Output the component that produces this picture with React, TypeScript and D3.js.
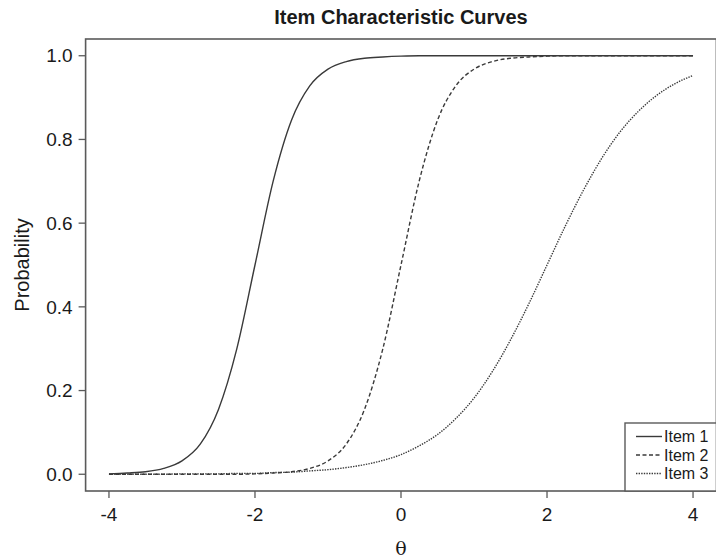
import React from "react";
import * as d3 from "d3";

const theta = [-4, -3.75, -3.5, -3.25, -3, -2.75, -2.5, -2.25, -2, -1.75, -1.5, -1.25, -1, -0.75, -0.5, -0.25, 0, 0.25, 0.5, 0.75, 1, 1.25, 1.5, 1.75, 2, 2.25, 2.5, 2.75, 3, 3.25, 3.5, 3.75, 4];
const item1 = [0.001, 0.003, 0.006, 0.014, 0.032, 0.072, 0.155, 0.299, 0.5, 0.701, 0.846, 0.928, 0.968, 0.986, 0.994, 0.997, 0.999, 1, 1, 1, 1, 1, 1, 1, 1, 1, 1, 1, 1, 1, 1, 1, 1];
const item2 = [0, 0, 0, 0, 0, 0, 0, 0, 0.001, 0.003, 0.006, 0.014, 0.032, 0.072, 0.155, 0.299, 0.5, 0.701, 0.846, 0.928, 0.968, 0.986, 0.994, 0.997, 0.999, 1, 1, 1, 1, 1, 1, 1, 1];
const item3 = [0, 0, 0, 0, 0.001, 0.001, 0.001, 0.002, 0.002, 0.004, 0.005, 0.008, 0.011, 0.016, 0.023, 0.033, 0.047, 0.068, 0.095, 0.133, 0.182, 0.245, 0.321, 0.407, 0.5, 0.593, 0.679, 0.755, 0.818, 0.867, 0.905, 0.933, 0.953];
const seriesNames = ["Item 1", "Item 2", "Item 3"];
const xTicks = [-4, -2, 0, 2, 4];
const yTicks = [0, 0.2, 0.4, 0.6, 0.8, 1.0];

export default function App() {
  const W = 716, H = 558;
  const left = 85.6, right = 716.4, top = 39, bottom = 491;
  const x = d3.scaleLinear().domain([-4.32, 4.32]).range([left, right]);
  const y = d3.scaleLinear().domain([-0.04, 1.04]).range([bottom, top]);
  const series = [item1, item2, item3];
  const dashes = [null, "4,2.5", "1.4,1.2"];
  const line = d3
    .line<number>()
    .x((_, i) => x(theta[i]))
    .y((d) => y(d))
    .curve(d3.curveMonotoneX);
  const lineColor = "#3a3a3a";
  const frameColor = "#5a5a5a";
  const textColor = "#1a1a1a";
  const font = "'Liberation Sans', Arial, sans-serif";
  const legLeft = 625, legTop = 423;
  const legY = [436.5, 455, 473.5];

  return (
    <svg width={W} height={H} style={{ position: "absolute", left: 0, top: 0, background: "#fff" }}>
      <defs>
        <clipPath id="plotclip">
          <rect x={left} y={top} width={right - left} height={bottom - top} />
        </clipPath>
      </defs>
      <text x={401} y={24} textAnchor="middle" fontFamily={font} fontWeight="bold" fontSize={20} fill={textColor}>
        Item Characteristic Curves
      </text>
      <g clipPath="url(#plotclip)">
        {series.map((s, k) => (
          <path
            key={k}
            d={line(s) || ""}
            fill="none"
            stroke={lineColor}
            strokeWidth={1.4}
            strokeDasharray={dashes[k] || undefined}
          />
        ))}
      </g>
      <rect x={left} y={top} width={right - left} height={bottom - top} fill="none" stroke={frameColor} strokeWidth={1.6} />
      {yTicks.map((t) => (
        <g key={"y" + t}>
          <line x1={left - 7} x2={left} y1={y(t)} y2={y(t)} stroke={frameColor} strokeWidth={1.3} />
          <text x={left - 13} y={y(t)} dy="0.35em" textAnchor="end" fontFamily={font} fontSize={19} fill={textColor}>
            {t.toFixed(1)}
          </text>
        </g>
      ))}
      {xTicks.map((t) => (
        <g key={"x" + t}>
          <line x1={x(t)} x2={x(t)} y1={bottom} y2={bottom + 7} stroke={frameColor} strokeWidth={1.3} />
          <text x={x(t)} y={521} textAnchor="middle" fontFamily={font} fontSize={19} fill={textColor}>
            {t}
          </text>
        </g>
      ))}
      <text
        transform={`translate(22, ${(top + bottom) / 2}) rotate(-90)`}
        dy="0.35em"
        textAnchor="middle"
        fontFamily={font}
        fontSize={20}
        fill={textColor}
      >
        Probability
      </text>
      <text x={401} y={555} textAnchor="middle" fontFamily="'DejaVu Serif', 'Liberation Serif', serif" fontSize={19} fill={textColor}>
        θ
      </text>
      <rect x={legLeft} y={legTop} width={right - legLeft} height={bottom - legTop} fill="#fff" stroke={frameColor} strokeWidth={1.4} />
      {seriesNames.map((n, k) => (
        <g key={n}>
          <line
            x1={636}
            x2={662}
            y1={legY[k]}
            y2={legY[k]}
            stroke={lineColor}
            strokeWidth={1.4}
            strokeDasharray={dashes[k] || undefined}
          />
          <text x={664} y={legY[k]} dy="0.35em" fontFamily={font} fontSize={16} fill={textColor}>
            {n}
          </text>
        </g>
      ))}
    </svg>
  );
}
